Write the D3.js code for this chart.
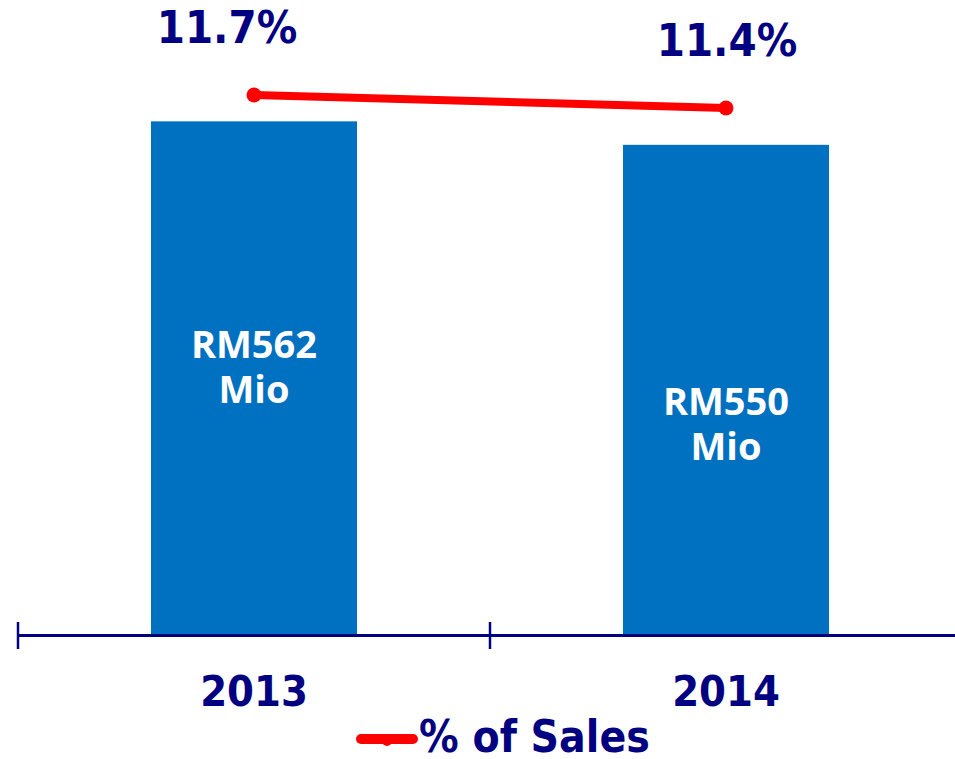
<!DOCTYPE html>
<html>
<head>
<meta charset="utf-8">
<script src="https://cdn.jsdelivr.net/npm/d3@7"></script>
<style>
  body { margin: 0; background: #fff; }
  #chart { width: 955px; height: 759px; }
  .bold { font-family: "DejaVu Sans Condensed", "DejaVu Sans", sans-serif; font-weight: bold; font-stretch: condensed; }
</style>
</head>
<body>
<div id="chart"></div>
<script>
// data
var years = ["2013", "2014"];
var spend = [562, 550];                 // RM Mio
var spendLabels = ["RM562", "RM550"];
var pctSales = [11.7, 11.4];            // % of sales
var pctLabels = ["11.7%", "11.4%"];
var legendLabel = "% of Sales";

var width = 955;
var height = 759;
var navy = "#000080";

var svg = d3.select("#chart")
    .append("svg")
    .attr("width", width)
    .attr("height", height);

var xScale = d3.scaleBand()
    .domain(years)
    .range([18, 962]);

var yScale = d3.scaleLinear()
    .domain([300, 600])
    .range([634, 47]);

var pScale = d3.scaleLinear()
    .domain([11, 12])
    .range([125.3, 82]);

var barW = 206;

// bars
svg.selectAll("rect.bar")
    .data(years)
    .enter()
    .append("rect")
        .attr("class", "bar")
        .attr("x", function(d) { return xScale(d) + xScale.bandwidth()/2 - barW/2; })
        .attr("y", function(d, i) { return yScale(spend[i]); })
        .attr("width", barW)
        .attr("height", function(d, i) { return yScale.range()[0] - yScale(spend[i]); })
        .attr("fill", "#0070C0");

// value labels inside bars (two lines each)
var labelShift = [-20, 26];
function midY(i) { return (yScale(spend[i]) + yScale.range()[0]) / 2 + labelShift[i]; }

[0, 45].forEach(function(off, line) {
    svg.selectAll("text.inlabel" + line)
        .data(years)
        .enter()
        .append("text")
            .attr("class", "inlabel" + line)
            .attr("text-anchor", "middle")
            .attr("fill", "#fff")
            .style("font-family", "'Open Sans', sans-serif")
            .style("font-weight", 700)
            .style("font-size", "38px")
            .attr("x", function(d) { return xScale(d) + xScale.bandwidth()/2; })
            .attr("y", function(d, i) { return midY(i) + off; })
            .text(function(d, i) { return line === 0 ? spendLabels[i] : "Mio"; });
});

// axis
var axisY = 635.5;
svg.append("line")
    .attr("x1", 18).attr("x2", 962)
    .attr("y1", axisY).attr("y2", axisY)
    .attr("stroke", navy)
    .attr("stroke-width", 3);

var edges = years.map(function(d) { return xScale(d); }).concat([xScale.range()[1]]);
svg.selectAll("line.tick")
    .data(edges)
    .enter()
    .append("line")
        .attr("class", "tick")
        .attr("x1", function(d) { return d; })
        .attr("x2", function(d) { return d; })
        .attr("y1", 622).attr("y2", 649)
        .attr("stroke", navy)
        .attr("stroke-width", 2.5);

svg.selectAll("text.year")
    .data(years)
    .enter()
    .append("text")
        .attr("class", "year bold")
        .attr("text-anchor", "middle")
        .attr("fill", navy)
        .style("font-size", "43px")
        .attr("x", function(d) { return xScale(d) + xScale.bandwidth()/2; })
        .attr("y", 706)
        .text(function(d) { return d; });

// % of sales line
var line = d3.line()
    .x(function(d, i) { return xScale(years[i]) + xScale.bandwidth()/2; })
    .y(function(d) { return pScale(d); });

svg.append("path")
    .datum(pctSales)
    .attr("d", line)
    .attr("fill", "none")
    .attr("stroke", "#FF0000")
    .attr("stroke-width", 8);

svg.selectAll("circle.pt")
    .data(pctSales)
    .enter()
    .append("circle")
        .attr("class", "pt")
        .attr("cx", function(d, i) { return xScale(years[i]) + xScale.bandwidth()/2; })
        .attr("cy", function(d) { return pScale(d); })
        .attr("r", 7.5)
        .attr("fill", "#FF0000");

var pctShift = [-27, 1];
svg.selectAll("text.pct")
    .data(pctSales)
    .enter()
    .append("text")
        .attr("class", "pct bold")
        .attr("text-anchor", "middle")
        .attr("fill", navy)
        .style("font-size", "45px")
        .attr("x", function(d, i) { return xScale(years[i]) + xScale.bandwidth()/2 + pctShift[i]; })
        .attr("y", function(d) { return pScale(d) - 52; })
        .text(function(d, i) { return pctLabels[i]; });

// legend
svg.append("line")
    .attr("x1", 361).attr("x2", 413)
    .attr("y1", 739).attr("y2", 739)
    .attr("stroke", "#FF0000")
    .attr("stroke-width", 10)
    .attr("stroke-linecap", "round");
svg.append("circle")
    .attr("cx", 387).attr("cy", 741)
    .attr("r", 5)
    .attr("fill", "#FF0000");
svg.append("text")
    .attr("class", "bold")
    .attr("fill", navy)
    .style("font-size", "44px")
    .attr("x", 419)
    .attr("y", 752)
    .text(legendLabel);
</script>
</body>
</html>
